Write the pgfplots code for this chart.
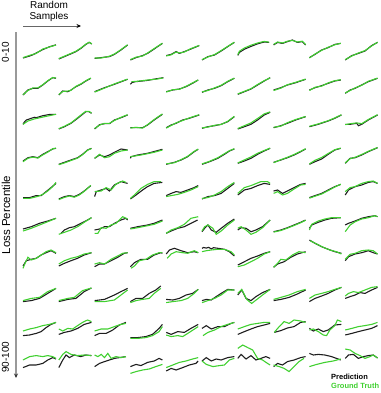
\documentclass[border=0pt]{standalone}
\usepackage{pgfplots}
\pgfplotsset{compat=1.18}
\usepackage{fontspec}
\setmainfont{Liberation Sans}
\usetikzlibrary{arrows.meta}
\definecolor{predblack}{HTML}{1E1E1E}
\definecolor{gtgreen}{HTML}{40D030}

\pgfplotsset{
  cellstyle/.style={hide axis, scale only axis, width=33bp, height=20bp,
    xmin=0, xmax=10, ymin=0, ymax=10, clip=false, anchor=west},
  pred/.style={predblack, line width=1.1pt, no markers},
  gt/.style={gtgreen, line width=1.1pt, no markers},
}
% one small panel: column, prediction, ground truth (row centre in \ry)
\newcommand\cell[3]{%
  \begin{axis}[cellstyle, at={({(23+35.8*(#1-1))*1bp},{-(\ry)*1bp})}]
  \addplot[pred] coordinates {#2};
  \addplot[gt] coordinates {#3};
  \end{axis}}

\begin{document}
\begin{tikzpicture}
\useasboundingbox (0,0) rectangle (381bp,-393bp);

% row 1 (loss 0-10)
\def\ry{50}
\cell{1}{(0,1.0)(2,2.0)(3,2.6)(4,3.5)(6,5.2)(8,6.6)(10,7.6)}{(0,1.2)(2,2.3)(4,3.3)(6,5.5)(8,6.5)(10,7.5)}
\cell{2}{(0,0.5)(1.7,1.7)(3.7,3.1)(5.2,4.2)(6.7,5.8)(8.2,7.8)(9.2,8.8)(10,8)}{(0,0.7)(1.7,1.9)(3.7,3.3)(5.2,4.4)(6.7,6)(8.2,7.9)(9.2,8.9)(10,8.1)}
\cell{3}{(0,0.8)(2,1.2)(4.5,1.7)(6,2.8)(8,5)(10,7.5)}{(0,1)(2,1.0)(4.5,1.9)(6,3)(8,5.2)(10,7.6)}
\cell{4}{(0,0)(1.7,1.2)(3.7,2.2)(5.2,3.3)(7.2,5.5)(9.7,8.3)}{(0,0.2)(1.7,1.4)(3.7,2.0)(5.2,3.5)(7.2,5.7)(9.7,8.4)}
\cell{5}{(0,2.2)(1.5,2.8)(3,4.2)(4,3.3)(5.5,4.2)(7.5,5.5)(10,7.2)}{(0,2.0)(1.5,2.6)(3,4.0)(4,3.5)(5.5,4.0)(7.5,5.7)(10,7.3)}
\cell{6}{(0,0)(1.8,1.7)(3.8,2.5)(5.8,4.5)(7.8,6.7)(9.8,8.8)}{(0,0.2)(1.8,1.5)(3.8,2.7)(5.8,4.7)(7.8,6.8)(9.8,8.9)}
\cell{7}{(0,2.3)(0.5,3.8)(2,5.4)(4,6.8)(6,8.1)(8,9.0)(9.5,8.8)}{(0,2.7)(0.5,4.4)(2,6.0)(4,7.4)(6,8.5)(8,9.3)(9.5,8.9)}
\cell{8}{(0,7.5)(1.2,8.8)(2.7,8.3)(4.2,9.2)(5.7,10)(7.2,8.8)(8.7,9.2)(9.7,7.5)}{(0,7.8)(1.2,9.0)(2.7,8.5)(4.2,9.4)(5.7,9.8)(7.2,9.0)(8.7,9.4)(9.7,7.7)}
\cell{9}{(0,1.2)(1.7,2.8)(3.7,5)(5.7,6.2)(7.7,7.8)(9.5,8.3)}{(0,1.0)(1.7,3.0)(3.7,4.8)(5.7,6.4)(7.7,7.6)(9.5,8.4)}
\cell{10}{(0,0)(2,2.2)(4,3.3)(6,4.5)(8,7.2)(9.8,8.8)}{(0,0.2)(2,2.0)(4,3.5)(6,4.7)(8,7.0)(9.8,8.9)}

% row 2
\def\ry{86.5}
\cell{1}{(0,0.75)(1.5,3.25)(3,4.1)(4.5,4.1)(6,5.75)(7.5,7.75)(9,9.4)(10,9.1)}{(0,0.9)(1.5,3.0)(3,4.3)(4.5,4.3)(6,5.9)(7.5,7.9)(9,9.5)(10,9.2)}
\cell{2}{(0,0.75)(1.2,2.75)(2.7,2.4)(3.7,3.25)(5.2,4.9)(6.7,6.1)(8.2,7.75)(9.7,9.1)}{(0,1.0)(1.2,2.5)(2.7,2.7)(3.7,3.1)(5.2,5.1)(6.7,6.3)(8.2,7.9)(9.7,9.2)}
\cell{3}{(0,2.4)(3,4.4)(6,6.1)(10,8.6)}{(0,2.2)(3,4.2)(6,6.3)(10,8.7)}
\cell{4}{(0,6.1)(0.5,7.0)(1.5,7.4)(5,8.0)(8,8.9)(10,9.4)}{(0.3,7.4)(2,7.6)(5,8.2)(8,8.7)(10,9.3)}
\cell{5}{(0,2.4)(2,3.25)(4,3.75)(6,4.9)(8,6.6)(9.7,8.25)}{(0,2.2)(2,3.4)(4,3.6)(6,5.1)(8,6.8)(9.7,8.3)}
\cell{6}{(0,2.1)(1.8,3.25)(3.8,4.1)(5.8,5.4)(7.8,7.4)(9.8,9.1)}{(0,2.3)(1.8,3.0)(3.8,4.3)(5.8,5.6)(7.8,7.6)(9.8,9.2)}
\cell{7}{(0,1.1)(2,2.4)(4,3.75)(6,5.75)(8,7.75)(9.8,9.4)}{(0,1.3)(2,2.6)(4,3.9)(6,6.0)(8,7.9)(9.8,9.3)}
\cell{8}{(0,3.25)(2.2,4.4)(4.2,5.75)(6.7,6.9)(9.7,8.6)}{(0,3.0)(2.2,4.2)(4.2,5.9)(6.7,7.1)(9.7,8.7)}
\cell{9}{(0,3.25)(1.7,4.4)(3.7,5.4)(5.7,6.6)(7.7,7.75)(9.5,8.25)}{(0,3.0)(1.7,4.6)(3.7,5.2)(5.7,6.8)(7.7,7.9)(9.5,8.4)}
\cell{10}{(0,1.6)(1.5,3.25)(3,4.1)(5,5.75)(7,7.4)(9.8,9.1)}{(0,1.8)(1.5,3.0)(3,4.3)(5,5.6)(7,7.6)(9.8,9.2)}

% row 3
\def\ry{120.5}
\cell{1}{(0,3.1)(0.5,4.4)(1,5.25)(2,5.8)(2.5,6.1)(3.5,6.6)(4,6.4)(6,7.4)(8,8.0)(10,8.1)}{(0,3.1)(1.5,4.75)(3.5,5.8)(6.5,6.9)(10,8.1)}
\cell{2}{(0,0.75)(1.7,1.9)(3.7,3.6)(5.7,6.1)(7.2,8.1)(8.2,9.4)(9.2,9.4)(9.9,8.6)}{(0,0.9)(1.7,2.1)(3.7,3.8)(5.7,6.4)(7.2,8.4)(8.2,9.6)(9.2,9.5)(9.9,8.7)}
\cell{3}{(0,0.75)(1.5,2.9)(3,3.4)(4.5,3.4)(6,5.25)(8,6.4)(10,7.75)}{(0,1.0)(1.5,2.7)(3,3.6)(4.5,3.6)(6,5.0)(8,6.6)(10,7.9)}
\cell{4}{(0,1.4)(1.7,1.4)(3.7,1.4)(5.2,2.75)(7.2,5.25)(9.7,8.1)}{(0,1.2)(1.7,1.6)(3.7,1.2)(5.2,2.9)(7.2,5.5)(9.7,8.3)}
\cell{5}{(0,1.4)(1.5,2.75)(3,3.6)(5,5.25)(7,6.1)(10,7.75)}{(0,1.2)(1.5,2.5)(3,3.8)(5,5.0)(7,6.3)(10,7.9)}
\cell{6}{(0,1.1)(1.8,1.9)(3.8,2.4)(5.8,3.1)(7.8,4.4)(9.8,6.9)}{(0,1.3)(1.8,1.7)(3.8,2.6)(5.8,3.0)(7.8,4.6)(9.8,7.1)}
\cell{7}{(0,0.75)(2,1.9)(4,3.1)(6,5.25)(8,7.75)(9.8,9.1)}{(0,1.0)(2,2.4)(4,3.8)(6,6.0)(8,8.3)(9.8,9.3)}
\cell{8}{(0,1.4)(2.2,2.4)(4.2,3.6)(6.7,5.25)(9.7,6.9)}{(0,1.6)(2.2,2.2)(4.2,3.9)(6.7,5.5)(9.7,7.0)}
\cell{9}{(0,1.9)(2.7,3.1)(5.7,4.75)(7.7,6.1)(9.7,7.75)}{(0,2.1)(2.7,3.3)(5.7,4.9)(7.7,6.3)(9.7,7.9)}
\cell{10}{(0,3.1)(1.5,3.1)(3.5,3.6)(4,2.4)(5,3.1)(7,5.25)(9.8,7.75)}{(0,2.9)(1.5,3.4)(3.5,3.8)(5,3.4)(7,5.5)(9.8,7.9)}

% row 4
\def\ry{155.5}
\cell{1}{(0,2.25)(1.5,3.9)(3,4.4)(4.5,3.9)(6,5.6)(7.5,6.9)(9,8.25)(10,8.6)}{(0,1.9)(1.5,3.6)(3,4.2)(4.5,3.7)(6,5.3)(7.5,6.7)(9,8.4)(10,8.7)}
\cell{2}{(0,0.6)(1.7,1.6)(3.7,2.75)(5.7,3.9)(7.2,5.6)(8.7,7.75)(9.9,8.6)}{(0,0.4)(1.7,1.3)(3.7,2.5)(5.7,3.7)(7.2,5.4)(8.7,7.6)(9.9,8.5)}
\cell{3}{(0,3.6)(1.5,5.25)(3,4.4)(4.5,5.25)(6,6.6)(8,8.25)(10,7.75)}{(0,3.6)(1.5,5.6)(3,3.9)(4.5,4.4)(6,6.1)(8,7.25)(10,7.75)}
\cell{4}{(0,3.6)(0.2,4.4)(2.2,5.25)(5.2,6.1)(9.7,8.1)}{(0,4.4)(3.2,5.25)(7.2,6.6)(9.7,7.75)}
\cell{5}{(0,0.6)(2.5,1.6)(4.5,2.75)(6.5,4.4)(8.5,6.9)(9.7,8.1)}{(0,0.8)(2.5,1.4)(4.5,2.9)(6.5,4.6)(8.5,7.1)(9.7,8.2)}
\cell{6}{(0,0.6)(2.3,1.9)(4.8,3.6)(6.8,5.6)(8.3,7.25)(9.8,8.25)}{(0,0.8)(2.3,2.1)(4.8,3.9)(6.8,5.9)(8.3,7.4)(9.8,8.4)}
\cell{7}{(0,1.1)(2,2.25)(4,3.6)(6,5.6)(8,7.25)(9.8,8.6)}{(0,1.3)(2,2.8)(4,4.3)(6,6.1)(8,7.5)(9.8,8.7)}
\cell{8}{(0,1.6)(2.2,2.75)(4.2,3.9)(6.2,5.25)(8.2,6.9)(9.7,8.25)}{(0,1.4)(2.2,2.9)(4.2,4.1)(6.2,5.5)(8.2,7.1)(9.7,8.4)}
\cell{9}{(0,0.6)(1.7,1.9)(3.7,3.25)(5.7,5.6)(7.7,7.75)(9.5,8.6)}{(0,0.8)(1.7,2.6)(3.7,4.0)(5.7,6.0)(7.7,7.9)(9.5,8.7)}
\cell{10}{(0,1.1)(1.5,3.6)(3,3.9)(5,5.25)(7,6.9)(9.8,8.9)}{(0,1.3)(1.5,3.4)(3,4.1)(5,5.5)(7,7.1)(9.8,9.0)}

% row 5
\def\ry{190}
\cell{1}{(0,1.2)(2,1.2)(4,2.2)(5.5,2.2)(7,4.2)(8.5,6.2)(10,8.3)}{(0,0.8)(2,0.8)(4.5,1.8)(6,2.8)(7.5,4.5)(9,6.7)(10,8.8)}
\cell{2}{(0,0.5)(1.7,1.7)(3.2,2.2)(4.7,1.7)(6.2,2.8)(7.7,4.5)(9.7,7.2)}{(0,0.2)(1.7,1.3)(3.2,2.0)(4.7,1.4)(6.2,2.5)(7.7,4.3)(9.7,7.3)}
\cell{3}{(0,1.7)(0.5,4.2)(2,5)(3.5,5.8)(4.5,4.5)(6,7.5)(8,9.2)(10,8.3)}{(0,4.2)(2,4.5)(3.5,6.2)(5,5.0)(6.5,8)(8.5,9.5)(9.5,8.8)}
\cell{4}{(0,0.5)(1.7,2.5)(3.7,5)(5.2,6.7)(7.2,8.3)(9.7,8.8)}{(0,0.8)(1.2,2.5)(3.2,5.8)(5.2,7.8)(7.2,9.2)(9.2,9.2)}
\cell{5}{(0,2.2)(1.5,3.3)(3,4.2)(4.5,3.8)(6.5,5)(8.5,6.2)(9.7,7.2)}{(0,1.7)(1.5,2.2)(3.5,2.8)(5.5,3.8)(7.5,5)(9.7,6.7)}
\cell{6}{(0,0.5)(1.8,1.7)(3.8,2.2)(5.8,3.3)(7.8,5.8)(9.8,8.3)}{(0,0.8)(1.8,1.2)(3.8,2.5)(5.8,4.2)(7.8,6.7)(9.8,8.8)}
\cell{7}{(0,2.5)(2,5)(4,5.8)(6,7.2)(8,8.3)(9.8,7.8)}{(0,3.3)(2,6.2)(4,7.2)(7,9.2)(9,9.2)(9.8,8.3)}
\cell{8}{(0,4.5)(1.2,5)(2.7,3.3)(4.2,4.5)(6.2,6.2)(8.2,7.8)(9.7,8.3)}{(0,3.3)(1.2,4.2)(2.7,2.5)(4.2,3.3)(6.2,5.5)(8.2,7.5)(9.7,7.8)}
\cell{9}{(0,1.2)(1.7,2.2)(3.7,3.3)(5.7,5)(7.7,6.7)(9.5,7.8)}{(0,0.9)(1.7,1.9)(3.7,3.0)(5.7,4.7)(7.7,6.5)(9.5,7.9)}
\cell{10}{(0,2.5)(1,5)(3,6.7)(5,7.5)(7,8.8)(8.5,9.2)(9.8,8.3)}{(0,4.2)(1.5,6.2)(3,6.7)(5,8.3)(7,9.2)(8.5,9.5)(9.8,8.3)}

% row 6
\def\ry{225.5}
\cell{1}{(0,3.25)(2.5,4.4)(5,6.1)(7.5,7.25)(10,8.6)}{(0,2.25)(2.5,3.6)(5,5.25)(7.5,6.9)(10,8.6)}
\cell{2}{(0.7,1.1)(1.7,2.75)(3.2,3.9)(4.7,4.4)(6.7,6.1)(8.7,7.75)(9.9,8.9)}{(0,0.6)(1.7,1.6)(3.7,2.75)(5.7,4.4)(7.7,6.6)(9.9,8.9)}
\cell{3}{(0,2.75)(1.5,3.25)(3,4.4)(4.5,4.4)(6,6.1)(8,7.75)(9.5,8.6)(10,7.75)}{(0,1.1)(1,1.1)(2,3.9)(3.5,3.6)(5,5.25)(6.5,6.1)(8.5,9.4)(10,8.25)}
\cell{4}{(0,3.6)(2.2,4.4)(5.2,5.25)(7.2,6.1)(9.7,7.75)}{(0,3.25)(2.2,3.9)(5.2,4.9)(7.2,5.6)(9.7,7.25)}
\cell{5}{(0,1.1)(1.5,2.25)(3.5,3.6)(5.5,4.4)(7.5,6.1)(9.5,7.75)}{(0,1.1)(1.5,2.75)(3.5,3.9)(5.5,5.6)(7.5,8.6)(9.7,9.4)}
\cell{6}{(0,1.9)(0.8,3.6)(1.8,5.25)(2.8,2.75)(4.3,1.6)(5.8,3.6)(7.8,6.1)(9.8,8.25)}{(0,2.25)(0.8,4.4)(1.8,5.25)(3.3,3.6)(4.3,0.6)(5.8,2.25)(7.8,5.25)(9.8,7.75)}
\cell{7}{(0,2.75)(1,3.9)(2.5,3.6)(4,1.9)(5.5,2.75)(7.5,4.4)(9.8,7.75)}{(0,3.6)(1,4.4)(2.5,2.75)(4,0.6)(5.5,1.6)(7.5,3.9)(9.8,7.75)}
\cell{8}{(0,1.9)(2.2,2.75)(4.2,3.9)(6.2,5.25)(8.2,6.6)(9.7,7.75)}{(0,1.7)(2.2,2.5)(4.2,3.7)(6.2,5.0)(8.2,6.4)(9.7,7.6)}
\cell{9}{(0,3.6)(0.7,5.25)(2.7,6.6)(4.7,7.75)(6.7,8.6)(9.5,8.9)}{(0,2.75)(0.7,5.6)(2.7,7.25)(4.7,8.25)(6.7,8.9)(9.5,8.9)}
\cell{10}{(0,5.25)(1,6.1)(3,7.25)(5,8.6)(7,9.4)(9,9.9)(9.8,9.4)}{(0,1.9)(1.5,5.25)(3,6.9)(5,8.25)(7,8.9)(9,9.9)(9.8,9.4)}

% row 7
\def\ry{258.5}
\cell{1}{(0,1.25)(1,3.9)(2.5,4.6)(4,5.1)(5.5,6.75)(7,7.9)(8.5,8.9)(10,7.6)}{(0,0.1)(0.7,2.9)(1.5,5.6)(2.5,4.25)(4,5.1)(5.5,6.75)(7,8.4)(8.5,9.25)(10,7.9)}
\cell{2}{(0,1.25)(1.7,2.6)(3.7,3.9)(5.7,5.1)(7.7,6.75)(9.9,7.9)}{(0,2.25)(1.7,3.9)(3.7,5.1)(5.7,5.9)(7.7,7.25)(9.9,7.9)}
\cell{3}{(0,0.9)(1.5,2.25)(3,2.25)(5,3.9)(7,5.6)(9,7.6)(10,7.9)}{(0,2.25)(1.5,2.9)(3,2.25)(5,4.6)(7,6.25)(8.5,7.6)(10,7.9)}
\cell{4}{(0,0.9)(1.2,2.9)(3.2,4.6)(5.2,4.6)(7.2,6.75)(9.2,7.9)(9.7,7.6)}{(0.2,0.1)(1.2,1.25)(2.7,3.9)(4.7,4.6)(6.7,6.75)(8.7,7.9)(9.7,7.9)}
\cell{5}{(0,7.25)(1,9.25)(2.5,10.1)(4.5,8.9)(6.5,7.9)(8.5,8.4)(9.7,7.9)}{(0.3,5.1)(1.5,7.25)(3,8.4)(5,7.9)(6.5,7.6)(8.5,8.9)(9.7,7.9)}
\cell{6}{(0,10.1)(0.5,10.5)(1.3,10.2)(2,10.6)(2.8,9.8)(3.5,10.4)(4.8,10.1)(6.8,9.6)(8.3,8.4)(9.8,6.25)}{(0,8.4)(1.3,8.9)(2.8,9.25)(4.8,9.6)(6.8,9.6)(8.8,8.4)(9.8,6.75)}
\cell{7}{(0,1.75)(2,3.4)(4,5.1)(6,6.25)(8,7.6)(9.8,8.4)}{(0,0.9)(2,1.75)(4,3.4)(6,5.1)(8,7.25)(9.8,8.4)}
\cell{8}{(0,0.6)(1.2,2.25)(3.2,3.4)(5.2,5.6)(7.2,7.25)(9.7,8.4)}{(0,0.6)(1.2,2.6)(2.2,4.6)(3.7,4.25)(5.7,6.75)(7.7,8.4)(9.7,7.9)}
\cell{9}{(0,14.25)(1.7,12.6)(3.7,10.9)(5.7,9.6)(7.7,8.4)(9.7,7.6)}{(0.2,13.9)(2.2,12.25)(4.2,10.6)(6.2,9.25)(8.2,8.4)(9.7,7.25)}
\cell{10}{(0,3.9)(1,5.9)(3,7.25)(5,7.9)(7,8.9)(8.5,7.9)(9.8,7.25)}{(0,4.6)(1.5,7.1)(3,7.6)(5,8.9)(7,9.25)(8.5,8.9)(9.8,7.25)}

% row 8
\def\ry{294}
\cell{1}{(0,1.2)(2.5,1.7)(5,2.8)(7.5,5.3)(10,7.8)}{(0,1.7)(2.5,2.8)(5,3.3)(7.5,6.2)(10,7.8)}
\cell{2}{(0,1.2)(2.7,2.3)(5.2,2.8)(7.7,6.2)(9.9,8.0)}{(0,1.7)(2.7,2.8)(4.7,3.3)(7.2,6.7)(9.9,8.0)}
\cell{3}{(0,1.7)(3,2.3)(6,4.5)(8,6.2)(10,7.8)}{(0,1.2)(3,1.2)(6,2.0)(8,4.5)(10,7.0)}
\cell{4}{(0,1.2)(1.7,2.8)(3.7,2.8)(5.7,5.3)(7.7,7)(9.2,9)}{(0,0.7)(1.7,1.7)(3.7,2.3)(5.7,2.8)(7.2,5.3)(9.2,7.8)}
\cell{5}{(0,2.3)(2,2)(4,2.8)(6,4.5)(8,5.3)(9.7,7.3)}{(0,0.7)(2,1.2)(4.5,1.7)(6.5,2.8)(8.5,5.3)(9.7,7.3)}
\cell{6}{(0,1.7)(1.3,2.3)(2.8,2)(4.3,3.7)(5.8,5.3)(7.8,7.3)(9.8,7)}{(0,0.7)(1.8,1.7)(3.8,2.8)(5.8,4.5)(7.8,7)(9.8,7)}
\cell{7}{(0,4.5)(1.2,7)(2.5,2.8)(4,1.7)(5.5,3.7)(7.5,5.7)(9.8,7.3)}{(0,5.3)(1.2,7.3)(2.7,2.3)(4.2,0.3)(5.8,2.3)(7.5,4.5)(9.8,7.3)}
\cell{8}{(0,1.7)(2.2,2.3)(4.7,3.3)(7.2,5)(9.7,7)}{(0,2.3)(2.2,3.3)(4.7,4.5)(7.2,6.2)(9.7,7.3)}
\cell{9}{(0,1.2)(1.7,2.8)(3.7,4)(5.7,5.3)(7.7,7)(9.7,8.3)}{(0,2.8)(1.7,4.5)(3.7,5.3)(5.7,6.2)(7.7,7.3)(9.7,8.3)}
\cell{10}{(0,2.8)(1.5,3.7)(3,4.5)(4.5,5.7)(6,5.3)(8,7)(9.8,8.3)}{(0,4)(1,5.3)(2.5,6.2)(4,5.7)(6,7)(8,8.3)(9.8,8.7)}

% row 9
\def\ry{329}
\cell{1}{(0,1.7)(2,2)(4,2.8)(5.5,3.7)(7,5.7)(8.5,7.3)(10,8.3)}{(0,4)(2,5)(4,5.7)(6,6.7)(8,7.3)(10,8.3)}
\cell{2}{(0,2.3)(1.7,3.3)(3.7,4)(5.7,5.3)(7.7,7.3)(9.9,8.3)}{(0,5)(1.2,4)(2.7,5.3)(4.2,5)(5.7,6.7)(7.2,8.3)(8.7,9.5)(9.9,8.7)}
\cell{3}{(0,1.7)(1.5,2.8)(3.5,2.8)(5.5,4.5)(7.5,7)(9.5,8.3)}{(0,4)(2,5)(4,5)(6,6.2)(8,7.3)(9.5,7.8)}
\cell{4}{(0,0.7)(2.2,0.7)(4.7,1.2)(6.7,2.3)(8.7,5.3)(9.7,7.3)}{(0,0.3)(2.2,0.3)(4.7,0.7)(6.7,1.7)(8.7,3.7)(9.7,6.2)}
\cell{5}{(0,3.3)(1.5,2.3)(3.5,3.7)(5.5,3.3)(7.5,5.3)(9.7,7.3)}{(0,2)(1.5,1.2)(3.5,1.7)(5,1.2)(7,3.3)(9.7,6.2)}
\cell{6}{(0,5.3)(1.3,6.7)(2.8,5)(4.8,6.2)(6.8,6.2)(8.8,7.8)(9.8,8.3)}{(0.3,1.7)(1.8,3.3)(3.8,4.5)(5.8,6.2)(7.8,7.3)(9.8,8.3)}
\cell{7}{(0,2.3)(2,3.7)(4,5)(6,6.2)(8,7)(9.8,7.8)}{(0,5)(2,6.2)(4,7.3)(6,7.8)(8,8.3)(9.8,8.3)}
\cell{8}{(0.2,3.3)(2.2,4.2)(4.2,5.5)(6.2,6.2)(8.2,8.3)(9.7,8.7)}{(0.2,3.3)(1.7,6.2)(3.2,8.7)(4.7,7.8)(6.2,9.5)(8.2,9)(9.7,8.3)}
\cell{9}{(0,5.3)(1.2,4)(2.7,5)(4.2,3.7)(5.7,4.5)(7.7,7)(9.7,7.3)}{(0,4.5)(1.2,5)(2.7,3.7)(4.2,2)(5.2,1.7)(6.2,4.5)(7.7,6.7)(8.5,9.5)(9.7,8.7)}
\cell{10}{(0,2)(2,2.8)(4,3.7)(6,4.5)(8,5.3)(9.8,6.7)}{(0,4.5)(2,5.3)(4,6.2)(6,6.7)(8,7.3)(9.8,8.3)}

% row 10 (loss 90-100)
\def\ry{358}
\cell{1}{(0,0.2)(2,1.5)(4,1.5)(6,2.3)(7.5,4)(9,5.2)(10,4.5)}{(0,4)(2,5.7)(4,6.2)(6,5.7)(7.5,6.2)(9,5.7)(10,4.8)}
\cell{2}{(0,0.2)(1.2,4)(2.2,6.5)(3.2,5.2)(4.7,6.5)(6.7,5.7)(8.2,6.5)(9.9,6.2)}{(0,4)(1.2,6.8)(2.2,8.2)(3.7,6.8)(5.7,6.2)(7.7,6.5)(9.9,6.2)}
\cell{3}{(0,0.7)(1.5,2.3)(3,3.2)(4.5,4)(6,4.8)(7.5,5.2)(9.5,5.7)}{(0,6.5)(1,5.7)(2,6.8)(3,5.2)(4,7.3)(5,4.8)(6.5,5.7)(8,5.2)(9.5,5.7)}
\cell{4}{(0,0.7)(1.7,1.8)(3.2,1.2)(5.2,2.8)(7.2,3.5)(8.7,4.8)(9.7,4)}{(0,-2.7)(1.7,-1.8)(3.7,-1)(5.7,-0.5)(7.7,0.7)(9.7,1.8)}
\cell{5}{(0,-1.5)(1.5,-0.2)(3,-1)(5,0.2)(7,1.5)(9,2.3)(9.7,3.5)}{(0,0.2)(2,1.5)(4,2.8)(6,3.5)(8,4.5)(9.7,5.2)}
\cell{6}{(0,3.5)(1.3,5.2)(2.8,3.5)(4.3,4.5)(5.8,4)(7.8,5.2)(9.8,5.7)}{(0,3.5)(1.3,1.8)(3.3,0.7)(5.3,1.2)(6.8,1.5)(8.3,4)(9.8,4.8)}
\cell{7}{(0,4.8)(1,6.8)(2.5,4.5)(4,6.2)(5.5,4)(7,4.8)(8.5,5.7)(9.8,4.8)}{(0,9.8)(1.5,11.5)(3,10.2)(4.5,9)(6,4.8)(7.5,4)(9,2.3)(9.8,1.5)}
\cell{8}{(0,0.7)(1.2,2.3)(2.7,1.5)(4.2,3.2)(6.2,4)(8.2,5.2)(9.7,5.7)}{(0,1.5)(1.7,0.7)(3.2,-0.2)(4.7,-1.8)(6.2,0.7)(7.7,3.2)(9.2,4.8)}
\cell{9}{(0,7.3)(1.2,6.5)(2.7,6.8)(4.7,6.5)(6.7,5.7)(8.2,4.8)(9.5,4)}{(0,0.7)(2.2,1.8)(4.7,2.8)(7.2,3.5)(9.5,4.5)}
\cell{10}{(0,4.8)(1,6.5)(2.5,6.8)(4,4.8)(5.5,5.7)(7,6.2)(8.5,6.5)(9.8,5)}{(0,9.5)(1.5,9)(3,7.3)(4.5,6.2)(6,4.8)(7.5,5.7)(8.5,6.5)(9.8,5)}

% titles, arrows and legend
\node[align=center, inner sep=0, font=\fontsize{10bp}{11bp}\selectfont] at (49bp,-11.5bp) {Random\\Samples};
\draw[black!60, line width=0.9bp, -{Stealth[length=4.5bp,width=4bp,color=black]}] (23bp,-26bp) -- (81bp,-26bp);
\draw[black!40, line width=1.2bp, -{Stealth[length=4.5bp,width=4bp,color=black!80]}] (16bp,-32bp) -- (16bp,-378bp);
\node[rotate=90, inner sep=0, font=\fontsize{10bp}{11bp}\selectfont] at (5.5bp,-52bp) {0-10};
\node[rotate=90, inner sep=0, font=\fontsize{11.5bp}{12bp}\selectfont] at (6bp,-215bp) {Loss Percentile};
\node[rotate=90, inner sep=0, font=\fontsize{10bp}{11bp}\selectfont] at (5.5bp,-357bp) {90-100};
\node[anchor=west, inner sep=0, font=\bfseries\fontsize{7.5bp}{8bp}\selectfont, text=black] at (331bp,-377bp) {Prediction};
\node[anchor=west, inner sep=0, font=\bfseries\fontsize{7.5bp}{8bp}\selectfont, text=gtgreen] at (331bp,-386bp) {Ground Truth};
\end{tikzpicture}
\end{document}
